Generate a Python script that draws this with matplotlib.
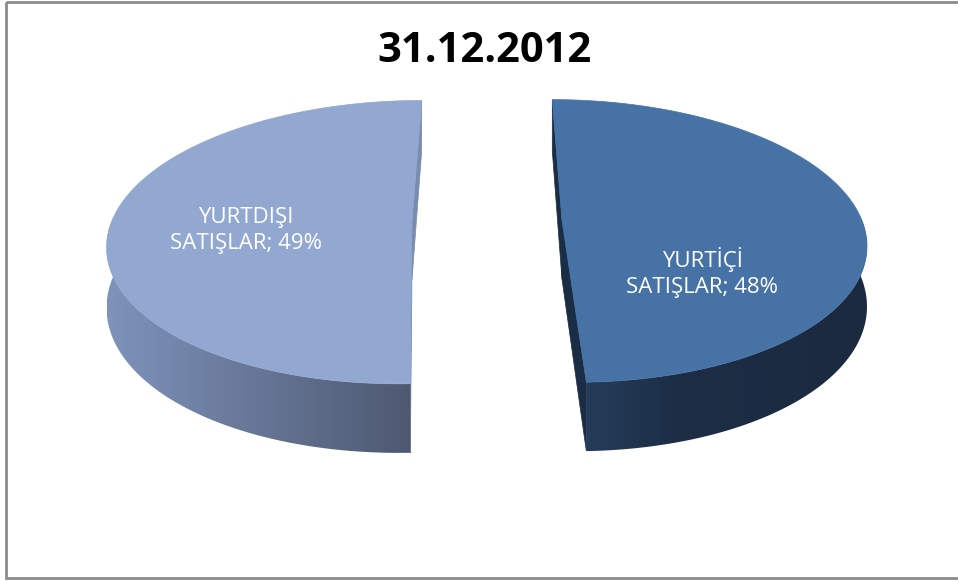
import numpy as np
import matplotlib
matplotlib.use("Agg")
import matplotlib.pyplot as plt
from matplotlib.patches import Polygon, Rectangle
from matplotlib.colors import to_rgb

# data
title = "31.12.2012"
categories = ["YURTİÇİ\nSATIŞLAR", "YURTDIŞI\nSATIŞLAR"]
values = [48, 49]

top_colors = ["#4672A6", "#92A8D0"]
cut_colors = ["#1B2C45", "#7A8BB0"]
# side gradient stops (u from -1..1 -> colour)
side_stops = [
    [(-1.0, "#27405F"), (0.0, "#27405F"), (0.4, "#1C2D45"), (1.0, "#1B2A40")],
    [(-1.0, "#7E92BA"), (0.0, "#4D5870"), (1.0, "#4D5870")],
]
label_place = [(0.56, -40.0), (0.55, 187.0)]  # (radius, deg) on top face

# projection of the tilted disc (pixel coordinates)
W, H = 958, 581
cx, cy = 487.0, 220.6
A, B, T = 300.0, 138.4, 58.8
k = 0.148
expl = 0.25


def proj(u, v, h):
    s = 1.0 / (1.0 + k * v)
    x = cx + A * u * s
    y = cy - B * v * s + T * (1.0 - h) * s
    return x, y


def grad_color(stops, u):
    us = [p[0] for p in stops]
    cs = np.array([to_rgb(p[1]) for p in stops])
    return np.stack([np.interp(u, us, cs[:, i]) for i in range(3)], axis=-1)


fig = plt.figure(figsize=(W / 100, H / 100), dpi=100)
ax = fig.add_axes([0, 0, 1, 1])

total = float(sum(values))
start = np.pi / 2
slices = []
for i, val in enumerate(values):
    span = 2 * np.pi * val / total
    t1, t2 = start - span, start  # clockwise from 12 o'clock
    start = t1
    bis = 0.5 * (t1 + t2)
    slices.append((t1, t2, expl * np.cos(bis), expl * np.sin(bis)))

for i, (t1, t2, du, dv) in enumerate(slices):
    # radial cut faces
    for t in (t1, t2):
        pts = [proj(du, dv, 1), proj(du + np.cos(t), dv + np.sin(t), 1),
               proj(du + np.cos(t), dv + np.sin(t), 0), proj(du, dv, 0)]
        ax.add_patch(Polygon(pts, closed=True, fc=cut_colors[i], ec=cut_colors[i],
                             lw=0.5, zorder=1))

    # outer side (front part) filled with a horizontal gradient
    ts = np.linspace(t1, t2, 400)
    front = ts[np.sin(ts) <= 0.02]
    top = [proj(du + np.cos(t), dv + np.sin(t), 1) for t in front]
    bot = [proj(du + np.cos(t), dv + np.sin(t), 0) for t in front[::-1]]
    side = Polygon(top + bot, closed=True, fc="none", ec="none", lw=0, zorder=2)
    ax.add_patch(side)
    xs = np.array([p[0] for p in top + bot])
    ys = np.array([p[1] for p in top + bot])
    gx = np.linspace(xs.min(), xs.max(), 300)
    gu = (gx - cx) / A - du
    img = grad_color(side_stops[i], gu)[None, :, :]
    im = ax.imshow(img, extent=[xs.min(), xs.max(), ys.max(), ys.min()],
                   aspect="auto", interpolation="bilinear", zorder=2)
    im.set_clip_path(side)

    # top face
    ts = np.linspace(t1, t2, 300)
    pts = [proj(du, dv, 1)] + [proj(du + np.cos(t), dv + np.sin(t), 1) for t in ts]
    ax.add_patch(Polygon(pts, closed=True, fc=top_colors[i], ec=top_colors[i],
                         lw=0.5, zorder=3))

    # label
    r, deg = label_place[i]
    th = np.radians(deg)
    lx, ly = proj(du + r * np.cos(th), dv + r * np.sin(th), 1)
    ax.text(lx, ly, f"{categories[i]}; {values[i]}%", color="white", fontsize=16,
            family="Open Sans", ha="center", va="center", linespacing=1.3, zorder=4)

ax.text(485, 52, title, fontsize=30, fontweight="bold", family="Open Sans",
        ha="center", va="center", color="black", zorder=4)

ax.add_patch(Rectangle((6, 1.5), W, 576, fill=False, ec="#8C8C8C", lw=2, zorder=5))

ax.set_xlim(0, W)
ax.set_ylim(H, 0)
ax.axis("off")

fig.savefig("out.png", dpi=100)
